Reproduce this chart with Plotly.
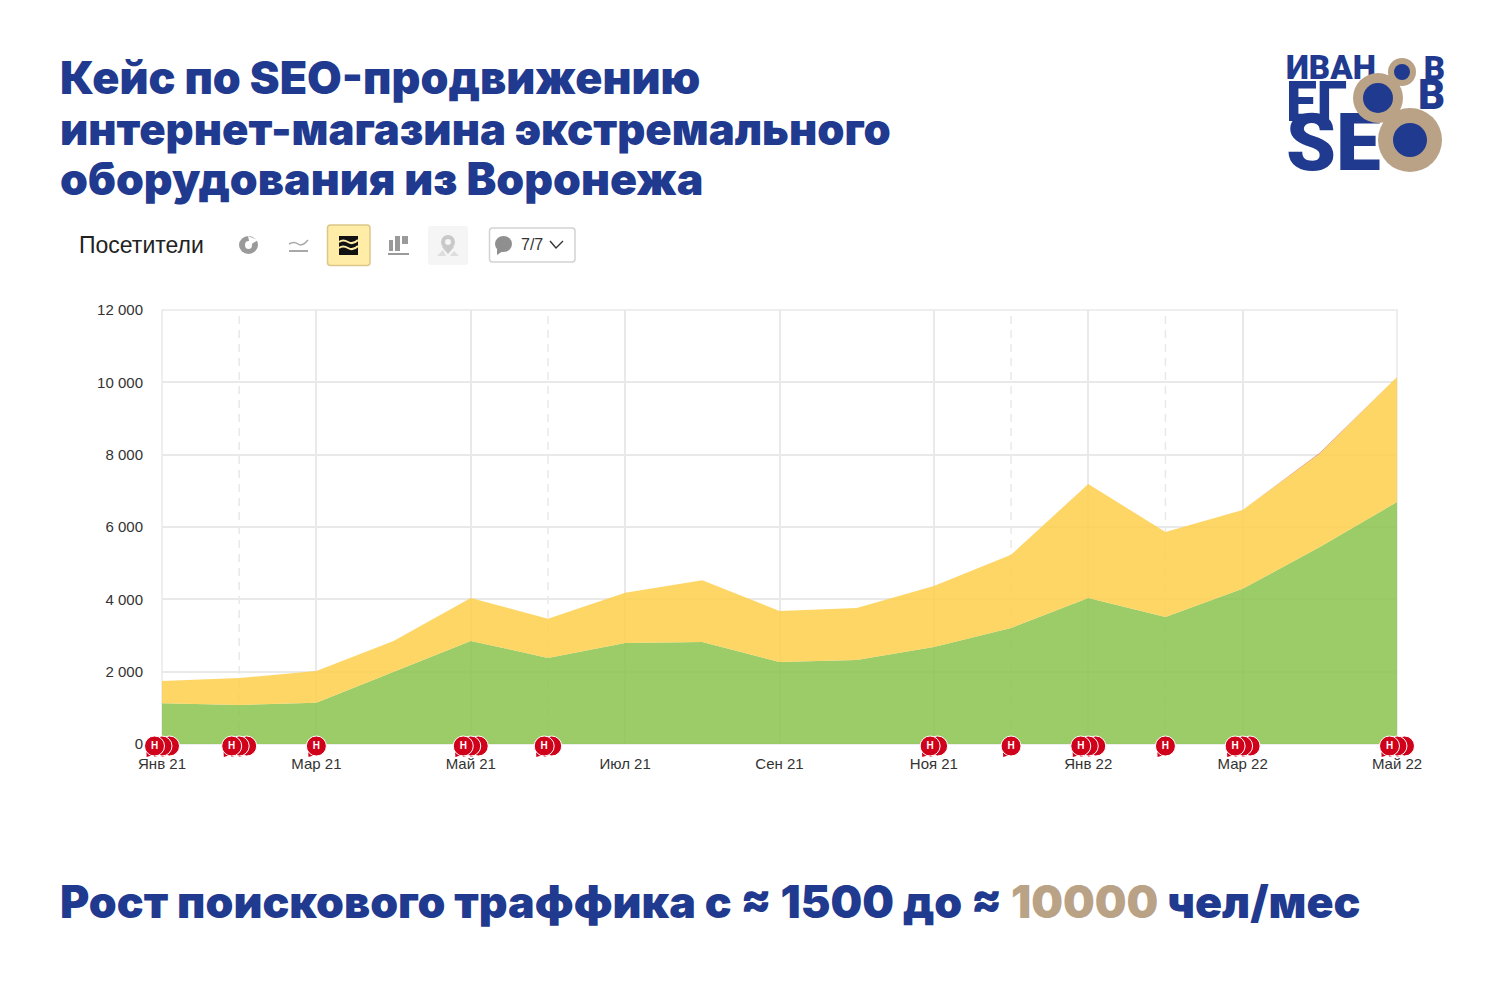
import plotly.graph_objects as go

months = list(range(17))
tick_pos = [0, 2, 4, 6, 8, 10, 12, 14, 16]
tick_labels = ['Янв 21', 'Мар 21', 'Май 21', 'Июл 21', 'Сен 21', 'Ноя 21', 'Янв 22', 'Мар 22', 'Май 22']
y_ticks = [0, 2000, 4000, 6000, 8000, 10000, 12000]

search = [1130, 1080, 1140, 1990, 2850, 2380, 2790, 2820, 2270, 2320, 2680, 3210, 4040, 3510, 4290, 5450, 6690]
direct = [610, 745, 880, 860, 1190, 1080, 1390, 1710, 1410, 1440, 1690, 2020, 3150, 2350, 2180, 2580, 3460]
other = [0, 0, 0, 0, 0, 0, 0, 0, 0, 0, 0, 0, 0, 0, 0, 25, 0]

dashed_months = [1, 5, 11, 13]
note_months = [0, 1, 2, 4, 5, 10, 11, 12, 13, 14, 16]
note_counts = [3, 3, 1, 3, 2, 2, 1, 3, 1, 3, 3]

NAVY = '#1f3a8f'
TAN = '#b9a286'
RED = '#d0021b'
GRID = '#e9e9e9'
TEXT_FONT = 'Liberation Sans'
HEAD_FONT = 'Inter'
PX_X = 16 / 1235     # months per page pixel
PX_Y = 12000 / 434   # visitors per page pixel
PAD = 40             # the notes axis reaches this many pixels past the plot

fig = go.Figure()

for name, vals, col in [('Поисковые', search, 'rgba(138,195,78,0.85)'),
                        ('Прямые', direct, 'rgba(253,207,75,0.85)'),
                        ('Прочие', other, 'rgba(225,120,90,0.9)')]:
    fig.add_trace(go.Scatter(x=months, y=vals, name=name, mode='lines', stackgroup='one',
                             line=dict(width=0, color=col), fillcolor=col, hoverinfo='skip'))

# note bubbles: back ones first so the leftmost is on top
bx, tx, fx = [], [], []
for m, n in zip(note_months, note_counts):
    for i in range(n - 1, -1, -1):
        x = m + (i - (n - 1) / 2) * 7.5 * PX_X
        bx.append(x)
        tx.append(x - 5 * PX_X)
        if i == 0:
            fx.append(x)

fig.add_trace(go.Scatter(x=tx, y=[-9 * PX_Y] * len(tx), xaxis='x3', yaxis='y3', mode='markers', hoverinfo='skip',
                         marker=dict(symbol='triangle-down', angle=35, size=10, color=RED)))
fig.add_trace(go.Scatter(x=bx, y=[-2 * PX_Y] * len(bx), xaxis='x3', yaxis='y3', mode='markers', hoverinfo='skip',
                         marker=dict(symbol='circle', size=20, color=RED, line=dict(color='white', width=1))))
fig.add_trace(go.Scatter(x=fx, y=[-2 * PX_Y] * len(fx), xaxis='x3', yaxis='y3', mode='text', text=['Н'] * len(fx),
                         hoverinfo='skip', textposition='middle center',
                         textfont=dict(family=TEXT_FONT, size=10, color='white', weight='bold')))

# logo letters live on a hidden page-sized axis pair, so the rings can sit over them
logo = [(1286, 71, 'ИВАН', 33, 'left'), (1445, 72, 'В', 33, 'right'),
        (1286, 107, 'ЕГ', 55, 'left'), (1445, 98, 'В', 42, 'right'),
        (1286, 150, 'SE', 80, 'left')]
for x, y, word, size, pos in logo:
    fig.add_trace(go.Scatter(x=[x], y=[y], xaxis='x2', yaxis='y2', mode='text', text=[word], hoverinfo='skip',
                             textposition='middle right' if pos == 'left' else 'middle left',
                             textfont=dict(family='Roboto', size=size, color=NAVY, weight=900)))

shapes = [dict(type='rect', xref='x domain', yref='y domain', x0=0, x1=1, y0=0, y1=1, layer='below',
               line=dict(color=GRID, width=1.5))]
for m in dashed_months:
    shapes.append(dict(type='line', xref='x', yref='y domain', x0=m, x1=m, y0=0, y1=1, layer='below',
                       line=dict(color=GRID, width=1.5, dash='8px,6px')))


def page(kind, x0, y0, x1, y1, fill, line=None, width=0):
    shapes.append(dict(type=kind, xref='x2', yref='y2', x0=x0, y0=y0, x1=x1, y1=y1, fillcolor=fill,
                       line=dict(color=line or fill, width=width), layer='above'))


def path(d, fill='rgba(0,0,0,0)', line=None, width=0):
    shapes.append(dict(type='path', xref='x2', yref='y2', path=d, fillcolor=fill,
                       line=dict(color=line or 'rgba(0,0,0,0)', width=width), layer='above'))


def rrect(x0, y0, x1, y1, r):
    return (f'M{x0+r},{y0} L{x1-r},{y0} Q{x1},{y0} {x1},{y0+r} L{x1},{y1-r} Q{x1},{y1} {x1-r},{y1} '
            f'L{x0+r},{y1} Q{x0},{y1} {x0},{y1-r} L{x0},{y0+r} Q{x0},{y0} {x0+r},{y0} Z')


# logo rings
for cx, cy, r_out, r_in in [(1402, 72, 14, 8), (1378, 98, 25, 15), (1410, 140, 32, 17)]:
    page('circle', cx - r_out, cy - r_out, cx + r_out, cy + r_out, TAN)
    page('circle', cx - r_in, cy - r_in, cx + r_in, cy + r_in, NAVY)

# toolbar: pie icon
page('circle', 239, 236, 258, 254, '#9a9a9a')
page('circle', 245, 241, 252, 249, 'white')
path('M248,236 L250,245 L258,240 Z', fill='white')
# toolbar: line icon
path('M289,244 Q294,241 298,244 T308,240', line='#a8a8a8', width=1.5)
path('M289,251 L308,251', line='#a8a8a8', width=2)
# toolbar: active area icon
path(rrect(327.5, 225, 370, 265.5, 3), fill='#ffeca6', line='#dcc689', width=1.5)
page('rect', 339, 236, 358, 255, '#111111')
for y in (241, 247):
    path(f'M339,{y+1} Q343,{y-2} 348,{y+1} T358,{y-1}', line='#ffeca6', width=2)
# toolbar: bars icon
page('rect', 389, 240, 393, 251, '#9a9a9a')
page('rect', 395, 236, 400, 251, '#9a9a9a')
page('rect', 402, 236, 408, 244, '#9a9a9a')
page('rect', 388, 253, 409, 255, '#9a9a9a')
# toolbar: disabled map icon
path(rrect(428, 226, 468, 265, 3), fill='#f5f5f5')
page('circle', 441, 235, 455, 249, '#c9c9c9')
page('circle', 445, 239, 451, 245, '#f5f5f5')
path('M442,247 L448,254 L454,247 Z', fill='#c9c9c9')
path('M437,256 L443,250 L446,256 Z M450,256 L454,251 L459,256 Z', fill='#dddddd')
# toolbar: comments dropdown
path(rrect(489.5, 228, 575, 262, 3), fill='white', line='#d2d2d2', width=1.5)
page('circle', 495, 236, 512, 252, '#8f8f8f')
path('M497,249 L497,255 L503,251 Z', fill='#8f8f8f')
path('M550,241 L556,248 L563,241', line='#333333', width=1.4)

notes = [
    (58, 78, 'Кейс по SEO-продвижению', HEAD_FONT, 44.8, NAVY, 900),
    (58, 129, 'интернет-магазина экстремального', HEAD_FONT, 43.6, NAVY, 900),
    (58, 179, 'оборудования из Воронежа', HEAD_FONT, 44.7, NAVY, 900),
    (58, 902, f'Рост поискового траффика с ≈ 1500 до ≈ <span style="color:{TAN}">10000</span> чел/мес',
     HEAD_FONT, 44.7, NAVY, 900),
    (77, 245, 'Посетители', TEXT_FONT, 23, '#222222', 400),
    (519, 244, '7/7', TEXT_FONT, 16, '#333333', 400),
]
annotations = [dict(xref='x2', yref='y2', x=x, y=y, text=t, showarrow=False, xanchor='left', yanchor='middle',
                    font=dict(family=fam, size=size, color=col, weight=w))
               for x, y, t, fam, size, col, w in notes]

fig.update_layout(
    width=1500, height=1000, margin=dict(l=0, r=0, t=0, b=0, autoexpand=False),
    paper_bgcolor='white', plot_bgcolor='rgba(0,0,0,0)', showlegend=False, separators=', ',
    font=dict(family=TEXT_FONT, color='#333333'),
    xaxis=dict(domain=[162 / 1500, 1397 / 1500], range=[0, 16], tickvals=tick_pos, ticktext=tick_labels,
               showgrid=True, gridcolor=GRID, gridwidth=1.5, zeroline=False, showline=False, ticks='',
               ticklabelstandoff=9, tickfont=dict(size=15, color='#333333'), anchor='y'),
    yaxis=dict(domain=[1 - 744 / 1000, 1 - 310 / 1000], range=[0, 12000], tickvals=y_ticks, tickformat=',d',
               showgrid=True, gridcolor=GRID, gridwidth=1.5, zeroline=False, showline=False, ticks='',
               ticklabelstandoff=18, tickfont=dict(size=15, color='#333333'), anchor='x'),
    xaxis2=dict(domain=[0, 1], range=[0, 1500], visible=False, anchor='y2', fixedrange=True),
    yaxis2=dict(domain=[0, 1], range=[1000, 0], visible=False, anchor='x2', fixedrange=True),
    # same scale as the main axes, only longer, so the note bubbles are not cut at the plot edge
    xaxis3=dict(domain=[(162 - PAD) / 1500, (1397 + PAD) / 1500], range=[-PAD * PX_X, 16 + PAD * PX_X],
                visible=False, anchor='y3', fixedrange=True),
    yaxis3=dict(domain=[1 - (744 + PAD) / 1000, 1 - 310 / 1000], range=[-PAD * PX_Y, 12000],
                visible=False, anchor='x3', fixedrange=True),
    shapes=shapes, annotations=annotations,
)

fig.write_html("out.html", post_script="document.body.style.margin='0';", config=dict(displayModeBar=False))
